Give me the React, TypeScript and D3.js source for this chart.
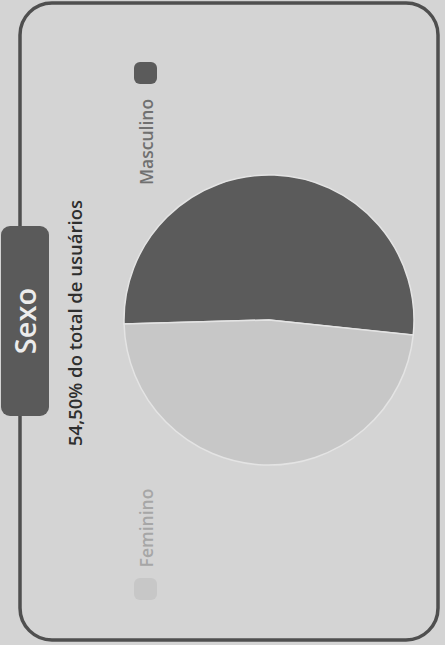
import React from "react";
import * as d3 from "d3";

const categories = ["Masculino", "Feminino"];
const values = [52.1, 47.9];
const colors = ["#5b5b5b", "#c7c7c7"];
const title = "Sexo";
const subtitle = "54,50% do total de usuários";

const W = 445;
const H = 645;

export default function App() {
  const cx = 269;
  const cy = 320;
  const r = 145;
  const pie = d3.pie<number>().sort(null).value((d) => d)(values);
  const arc = d3.arc<d3.PieArcDatum<number>>().innerRadius(0).outerRadius(r);
  const font = "'Open Sans', 'Noto Sans', sans-serif";

  return (
    <svg
      width={W}
      height={H}
      style={{ position: "absolute", left: 0, top: 0 }}
      viewBox={`0 0 ${W} ${H}`}
    >
      <rect x={0} y={0} width={W} height={H} fill="#d4d4d4" />
      <rect
        x={20}
        y={3}
        width={418}
        height={637}
        rx={32}
        ry={32}
        fill="none"
        stroke="#4f4f4f"
        strokeWidth={3.5}
      />
      {/* title tab */}
      <rect x={1} y={226} width={48} height={190} rx={9} fill="#5a5a5a" />
      <text
        transform={`translate(36,321) rotate(-90)`}
        textAnchor="middle"
        fontFamily={font}
        fontSize={29}
        fontWeight={600}
        fill="#ececec"
      >
        {title}
      </text>
      <text
        transform={`translate(82,323) rotate(-90)`}
        textAnchor="middle"
        fontFamily={font}
        fontSize={18.5}
        fontWeight={600}
        fill="#2e2e2e"
      >
        {subtitle}
      </text>
      {/* pie */}
      <g transform={`translate(${cx},${cy}) rotate(-91.6)`}>
        {pie.map((d, i) => (
          <path
            key={categories[i]}
            d={arc(d) || ""}
            fill={colors[i]}
            stroke="#e4e4e4"
            strokeWidth={1.5}
          />
        ))}
      </g>
      {/* legend */}
      <rect x={134} y={62} width={23} height={22} rx={6} fill={colors[0]} />
      <text
        transform={`translate(153,142) rotate(-90)`}
        textAnchor="middle"
        fontFamily={font}
        fontSize={17.5}
        fontWeight={600}
        fill="#707070"
      >
        {categories[0]}
      </text>
      <rect x={134} y={578} width={23} height={22} rx={6} fill={colors[1]} />
      <text
        transform={`translate(153,528) rotate(-90)`}
        textAnchor="middle"
        fontFamily={font}
        fontSize={17.5}
        fontWeight={600}
        fill="#a6a6a6"
      >
        {categories[1]}
      </text>
    </svg>
  );
}
